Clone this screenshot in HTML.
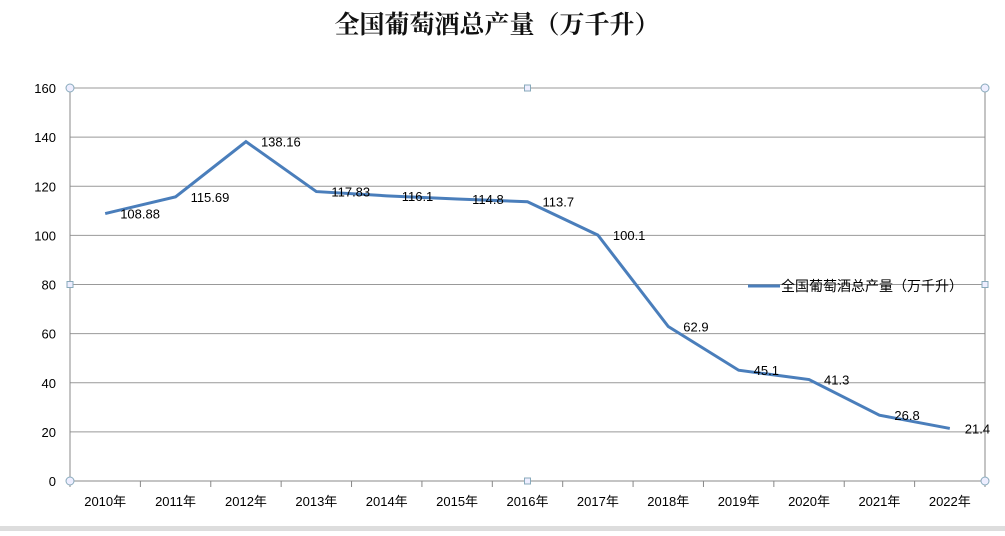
<!DOCTYPE html>
<html><head><meta charset="utf-8"><style>
body{margin:0;background:#fff;font-family:"Liberation Sans","Noto Sans CJK SC",sans-serif}
</style></head><body>
<svg width="1005" height="531" xmlns="http://www.w3.org/2000/svg">
<text x="497" y="33" text-anchor="middle" font-size="25" font-family="'Noto Serif CJK SC',serif" font-weight="bold" fill="#111">全国葡萄酒总产量（万千升）</text>
<g id="grid"></g><g id="axes"></g><g id="series"></g>
<line x1="748" y1="286" x2="780" y2="286" stroke="#4a7ebb" stroke-width="3"/>
<text x="781" y="291" font-size="14" fill="#000">全国葡萄酒总产量（万千升）</text>
<rect x="0" y="526" width="1005" height="5" fill="#ddd"/>
</svg>
<script>
const categories=["2010年","2011年","2012年","2013年","2014年","2015年","2016年","2017年","2018年","2019年","2020年","2021年","2022年"];
const values=[108.88,115.69,138.16,117.83,116.1,114.8,113.7,100.1,62.9,45.1,41.3,26.8,21.4];
const labels=["108.88","115.69","138.16","117.83","116.1","114.8","113.7","100.1","62.9","45.1","41.3","26.8","21.4"];
const yTicks=[0,20,40,60,80,100,120,140,160];
const NS="http://www.w3.org/2000/svg";
const L=70,R=985,T=88,B=481,n=categories.length,bw=(R-L)/n;
const x=i=>L+bw*(i+0.5), y=v=>B-(v/160)*(B-T);
function mk(tag,attrs,parent,txt){const e=document.createElementNS(NS,tag);for(const k in attrs)e.setAttribute(k,attrs[k]);if(txt!=null)e.textContent=txt;document.getElementById(parent).appendChild(e);return e;}
yTicks.forEach(t=>{
 const g=mk('line',{x1:L,x2:R,y1:y(t),y2:y(t),stroke:t===0?'#888':'#999','stroke-width':1},'grid');
 
 
 const tx=mk('text',{x:L-14,y:y(t)+5,'text-anchor':'end','font-size':13,fill:'#000'},'axes',t);
 
 
});
const ya=mk('line',{x1:L,x2:L,y1:T,y2:B,stroke:'#888'},'axes');


const rb=mk('line',{x1:R,x2:R,y1:T,y2:B,stroke:'#888'},'axes');


for(let i=0;i<=n;i++){
 const tk=mk('line',{x1:L+bw*i,x2:L+bw*i,y1:B,y2:B+6,stroke:'#888'},'axes');
 
 
}
categories.forEach((c,i)=>{
 const t=mk('text',{x:x(i),y:B+25,'text-anchor':'middle','font-size':13,fill:'#000'},'axes',c);
 
 
});
const pl=mk('polyline',{points:values.map((v,i)=>x(i)+','+y(v)).join(' '),fill:'none',stroke:'#4a7ebb','stroke-width':3},'series');


values.forEach((v,i)=>{
 const t=mk('text',{x:x(i)+15,y:y(v)+5,'font-size':13,fill:'#000'},'series',labels[i]);
 
 
});
[[L,T],[R,T],[L,B],[R,B]].forEach(p=>{
 const c=mk('circle',{cx:p[0],cy:p[1],r:4,fill:'#eef',stroke:'#8ab'},'axes');
 
 
});
[[(L+R)/2,T],[(L+R)/2,B],[L,y(80)],[R,y(80)]].forEach(p=>{
 const r=mk('rect',{x:p[0]-3,y:p[1]-3,width:6,height:6,fill:'#eef',stroke:'#8ab'},'axes');
 
 
});
</script>
</body></html>
